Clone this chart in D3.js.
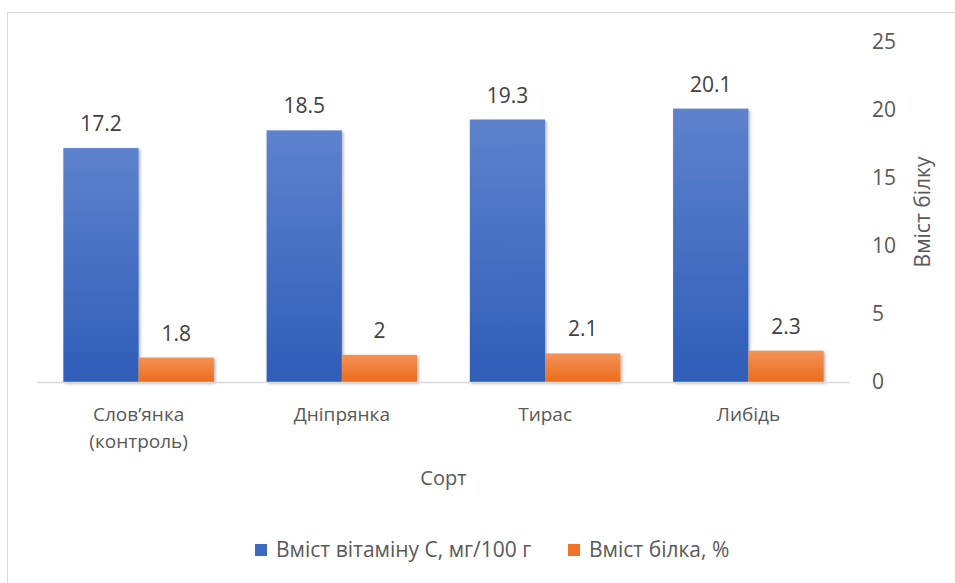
<!DOCTYPE html>
<html>
<head>
<meta charset="utf-8">
<script src="https://cdn.jsdelivr.net/npm/d3@7"></script>
<style>
  body { margin: 0; background: #fff; }
  text { font-family: "Open Sans", "Noto Sans", sans-serif; }
</style>
</head>
<body>
<div id="chart"></div>
<script>
const categories = [["Слов’янка", "(контроль)"], ["Дніпрянка"], ["Тирас"], ["Либідь"]];
const seriesNames = ["Вміст вітаміну С, мг/100 г", "Вміст білка, %"];
const vitaminC = [17.2, 18.5, 19.3, 20.1];
const protein = [1.8, 2, 2.1, 2.3];
const yTicks = [0, 5, 10, 15, 20, 25];

const W = 955, H = 583;
const plot = { left: 37, right: 850, top: 42, bottom: 382 };

const svg = d3.select("#chart").append("svg")
    .attr("width", W)
    .attr("height", H);

// gradients + shadow
const defs = svg.append("defs");
function grad(id, top, bottom) {
    const g = defs.append("linearGradient").attr("id", id)
        .attr("x1", 0).attr("y1", 0).attr("x2", 0).attr("y2", 1);
    g.append("stop").attr("offset", "0%").attr("stop-color", top);
    g.append("stop").attr("offset", "100%").attr("stop-color", bottom);
}
grad("gBlue", "#5e82cd", "#2f5db8");
grad("gOrange", "#f39256", "#eb6c1c");
const f = defs.append("filter").attr("id", "shadow")
    .attr("x", "-20%").attr("y", "-20%").attr("width", "140%").attr("height", "140%");
f.append("feDropShadow").attr("dx", 1.5).attr("dy", 1.5).attr("stdDeviation", 1.5)
    .attr("flood-color", "#000").attr("flood-opacity", 0.3);

// outer border
svg.append("rect")
    .attr("x", 7.5).attr("y", 12.5)
    .attr("width", W + 10).attr("height", H + 10)
    .attr("fill", "none")
    .attr("stroke", "#d9d9d9");

const keys = categories.map(c => c.join(" "));
const x = d3.scaleBand().domain(keys).range([plot.left, plot.right]).padding(0);
const xs = d3.scaleBand().domain([0, 1]).range([0, x.bandwidth()])
    .paddingInner(0).paddingOuter(0.35);
const y = d3.scaleLinear().domain([0, 25]).range([plot.bottom, plot.top]);

const data = keys.map((k, i) => ({ key: k, vals: [vitaminC[i], protein[i]] }));
const fills = ["url(#gBlue)", "url(#gOrange)"];

// bars
const groups = svg.append("g").selectAll("g")
    .data(data)
    .join("g")
    .attr("transform", d => "translate(" + x(d.key) + ",0)");

groups.selectAll("rect")
    .data(d => d.vals.map((v, s) => ({ v, s })))
    .join("rect")
    .attr("x", d => xs(d.s))
    .attr("y", d => y(d.v))
    .attr("width", xs.bandwidth())
    .attr("height", d => y(0) - y(d.v))
    .attr("fill", d => fills[d.s])
    .attr("filter", "url(#shadow)");

// value labels
groups.selectAll("text.val")
    .data(d => d.vals.map((v, s) => ({ v, s })))
    .join("text")
    .attr("class", "val")
    .attr("x", d => xs(d.s) + xs.bandwidth() / 2)
    .attr("y", d => y(d.v) - 17)
    .attr("text-anchor", "middle")
    .attr("font-size", 21)
    .attr("fill", "#404040")
    .text(d => d.v);

// baseline
svg.append("line")
    .attr("x1", plot.left).attr("x2", plot.right)
    .attr("y1", y(0) + 0.5).attr("y2", y(0) + 0.5)
    .attr("stroke", "#d9d9d9")
    .attr("stroke-width", 1.5);

// right axis
const yAxis = svg.append("g")
    .attr("transform", "translate(" + (plot.right + 22) + ",0)")
    .call(d3.axisRight(y).tickValues(yTicks).tickSize(0).tickPadding(0));
yAxis.select(".domain").remove();
yAxis.selectAll("text")
    .attr("font-family", "Open Sans, Noto Sans, sans-serif")
    .attr("font-size", 21)
    .attr("fill", "#595959");

// category labels
const cat = svg.append("g").selectAll("text")
    .data(categories)
    .join("text")
    .attr("x", (d, i) => x(keys[i]) + x.bandwidth() / 2)
    .attr("y", 421)
    .attr("text-anchor", "middle")
    .attr("font-size", 19)
    .attr("fill", "#595959");
cat.selectAll("tspan")
    .data(d => d)
    .join("tspan")
    .attr("x", function () { return d3.select(this.parentNode).attr("x"); })
    .attr("dy", (d, i) => i === 0 ? 0 : 27)
    .text(d => d);

// axis titles
svg.append("text")
    .attr("x", (plot.left + plot.right) / 2)
    .attr("y", 485)
    .attr("text-anchor", "middle")
    .attr("font-size", 20)
    .attr("fill", "#595959")
    .text("Сорт");

svg.append("text")
    .attr("transform", "translate(930," + (plot.top + plot.bottom) / 2 + ") rotate(-90)")
    .attr("text-anchor", "middle")
    .attr("font-size", 21)
    .attr("fill", "#595959")
    .text("Вміст білку");

// legend
const legend = svg.append("g").attr("transform", "translate(255,544)");
const legendX = [0, 313];
const legendFill = ["#3e68c2", "#ee7429"];
seriesNames.forEach((name, i) => {
    legend.append("rect")
        .attr("x", legendX[i]).attr("y", 0)
        .attr("width", 12).attr("height", 12)
        .attr("fill", legendFill[i]);
    legend.append("text")
        .attr("x", legendX[i] + 21).attr("y", 13)
        .attr("font-size", 21)
        .attr("fill", "#595959")
        .text(name);
});
</script>
</body>
</html>
